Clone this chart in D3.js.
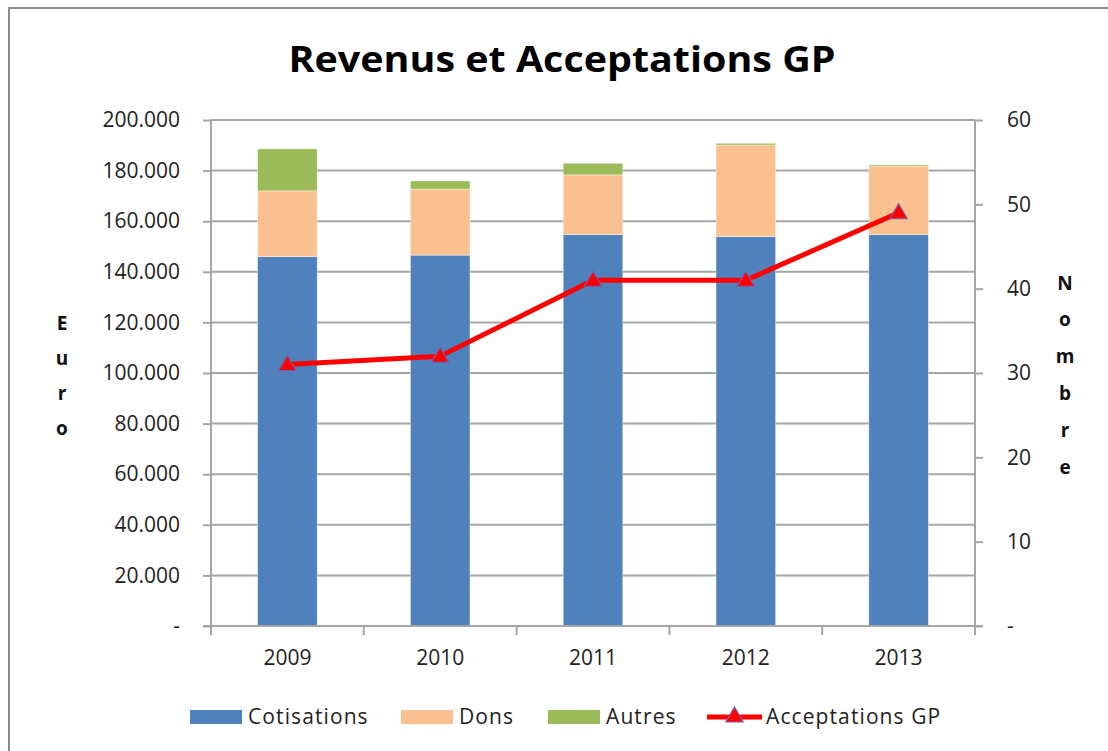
<!DOCTYPE html>
<html>
<head>
<meta charset="utf-8">
<script src="https://cdn.jsdelivr.net/npm/d3@7"></script>
<style>
  html, body { margin: 0; padding: 0; background: #fff; }
  svg { display: block; font-family: "Open Sans", "Noto Sans", sans-serif; }
</style>
</head>
<body>
<svg id="chart" width="1108" height="751"></svg>
<script>
// ---- data ----
const years = ["2009", "2010", "2011", "2012", "2013"];
const cotisations = [146000, 146600, 154700, 153900, 154700];
const dons = [26000, 26100, 23600, 36200, 27100];
const autres = [16600, 3200, 4600, 700, 500];
const acceptations = [31, 32, 41, 41, 49];
const seriesNames = ["Cotisations", "Dons", "Autres"];
const lineName = "Acceptations GP";
const leftTicks = [0, 20000, 40000, 60000, 80000, 100000, 120000, 140000, 160000, 180000, 200000];
const rightTicks = [0, 10, 20, 30, 40, 50, 60];
const title = "Revenus et Acceptations GP";
const leftTitle = "Euro";
const rightTitle = "Nombre";

const colors = ["#4F81BD", "#FAC090", "#9BBB59"];
const gridColor = "#A6A6A6";

const svg = d3.select("#chart");
const plot = { left: 211, right: 975, top: 120, bottom: 626 };

// outer border
svg.append("rect").attr("x", 9).attr("y", 8).attr("width", 1120).attr("height", 760)
  .attr("fill", "#fff").attr("stroke", "#8C8C8C").attr("stroke-width", 2);

// title
svg.append("text").attr("x", 562).attr("y", 72).attr("text-anchor", "middle")
  .attr("font-size", 36).attr("font-weight", "bold").attr("fill", "#000")
  .attr("textLength", 547).attr("lengthAdjust", "spacingAndGlyphs")
  .text(title);

const x = d3.scaleBand().domain(years).range([plot.left, plot.right]).padding(0);
const yL = d3.scaleLinear().domain([0, 200000]).range([plot.bottom, plot.top]);
const yR = d3.scaleLinear().domain([0, 60]).range([plot.bottom, plot.top]);

const loc = d3.formatLocale({ decimal: ",", thousands: ".", grouping: [3], currency: ["", ""] });
const fmtL = v => v === 0 ? "-" : loc.format(",")(v);
const fmtR = v => v === 0 ? "-" : String(v);

// gridlines
svg.append("g").selectAll("line").data(leftTicks.filter(d => d > 0)).join("line")
  .attr("x1", plot.left).attr("x2", plot.right)
  .attr("y1", d => yL(d)).attr("y2", d => yL(d))
  .attr("stroke", gridColor).attr("stroke-width", 2);

// stacked bars
const table = years.map((y, i) => ({ year: y, Cotisations: cotisations[i], Dons: dons[i], Autres: autres[i] }));
const stack = d3.stack().keys(seriesNames)(table);
const bw = x.bandwidth() * 0.39;
svg.append("g").selectAll("g").data(stack).join("g")
  .attr("fill", (d, i) => colors[i])
  .selectAll("rect").data(d => d).join("rect")
  .attr("x", d => x(d.data.year) + (x.bandwidth() - bw) / 2)
  .attr("width", bw)
  .attr("y", d => yL(d[1]))
  .attr("height", d => yL(d[0]) - yL(d[1]))
  .attr("stroke", "#fff").attr("stroke-opacity", 0.5).attr("stroke-width", 0.8);

const tickFont = 21;

// left axis
const axL = svg.append("g").attr("transform", `translate(${plot.left},0)`)
  .call(d3.axisLeft(yL).tickValues(leftTicks).tickFormat(fmtL).tickSize(8).tickPadding(23));
axL.select(".domain").attr("stroke", gridColor).attr("stroke-width", 2).attr("d", `M0,${plot.top}V${plot.bottom}`);
axL.selectAll(".tick line").attr("stroke", gridColor).attr("stroke-width", 2);
axL.selectAll(".tick text").attr("font-size", tickFont).attr("fill", "#222").attr("font-family", "'Open Sans', sans-serif");

// right axis
const axR = svg.append("g").attr("transform", `translate(${plot.right},0)`)
  .call(d3.axisRight(yR).tickValues(rightTicks).tickFormat(fmtR).tickSize(8).tickPadding(24));
axR.select(".domain").attr("stroke", gridColor).attr("stroke-width", 2).attr("d", `M0,${plot.top}V${plot.bottom}`);
axR.selectAll(".tick line").attr("stroke", gridColor).attr("stroke-width", 2);
axR.selectAll(".tick text").attr("font-size", tickFont).attr("fill", "#222").attr("font-family", "'Open Sans', sans-serif");

// bottom axis
const axB = svg.append("g").attr("transform", `translate(0,${plot.bottom})`)
  .call(d3.axisBottom(x).tickSize(0).tickPadding(24));
axB.select(".domain").attr("stroke", gridColor).attr("stroke-width", 2).attr("d", `M${plot.left - 8},0H${plot.right + 8}`);
axB.selectAll(".tick text").attr("font-size", tickFont).attr("fill", "#222").attr("font-family", "'Open Sans', sans-serif");
const bounds = years.map(y => x(y)).concat([x(years[years.length - 1]) + x.bandwidth()]);
axB.selectAll(".bound").data(bounds).join("line").attr("class", "bound")
  .attr("x1", d => d).attr("x2", d => d).attr("y1", 0).attr("y2", 9)
  .attr("stroke", gridColor).attr("stroke-width", 2);

// vertical axis titles
svg.append("g").selectAll("text").data(leftTitle.split("")).join("text")
  .attr("x", 62).attr("y", (d, i) => 323 + i * 35).attr("dy", "0.35em")
  .attr("text-anchor", "middle").attr("font-size", 19).attr("font-weight", "bold").attr("fill", "#111")
  .text(d => d);
svg.append("g").selectAll("text").data(rightTitle.split("")).join("text")
  .attr("x", 1065).attr("y", (d, i) => 283 + i * 36.8).attr("dy", "0.35em")
  .attr("text-anchor", "middle").attr("font-size", 19).attr("font-weight", "bold").attr("fill", "#111")
  .text(d => d);

// line
const cx = y => x(y) + x.bandwidth() / 2;
const lineGen = d3.line().x((d, i) => cx(years[i])).y(d => yR(d));
svg.append("path").datum(acceptations).attr("d", lineGen)
  .attr("fill", "none").attr("stroke", "#FF0000").attr("stroke-width", 5).attr("stroke-linejoin", "round");
const tri = d3.symbol().type(d3.symbolTriangle).size(130);
svg.append("g").selectAll("path").data(acceptations).join("path")
  .attr("transform", (d, i) => `translate(${cx(years[i])},${yR(d) + 1})`)
  .attr("d", tri).attr("fill", "#FF0000").attr("stroke", "#7A5BB0").attr("stroke-width", 1.2);

// legend
const leg = svg.append("g");
const legY = 717;
const items = [
  { name: seriesNames[0], type: "rect", color: colors[0], x: 190 },
  { name: seriesNames[1], type: "rect", color: colors[1], x: 401 },
  { name: seriesNames[2], type: "rect", color: colors[2], x: 548 },
  { name: lineName, type: "line", color: "#FF0000", x: 707 }
];
items.forEach(it => {
  if (it.type === "rect") {
    leg.append("rect").attr("x", it.x).attr("y", legY - 7).attr("width", 52).attr("height", 14).attr("fill", it.color);
  } else {
    leg.append("line").attr("x1", it.x).attr("x2", it.x + 55).attr("y1", legY).attr("y2", legY)
      .attr("stroke", it.color).attr("stroke-width", 5);
    leg.append("path").attr("transform", `translate(${it.x + 27.5},${legY})`).attr("d", tri)
      .attr("fill", "#FF0000").attr("stroke", "#7A5BB0").attr("stroke-width", 1.2);
  }
  leg.append("text").attr("x", it.x + (it.type === "rect" ? 58 : 59)).attr("y", legY).attr("dy", "0.35em")
    .attr("font-size", 21).attr("letter-spacing", 1.1).attr("fill", "#222").text(it.name);
});
</script>
</body>
</html>
